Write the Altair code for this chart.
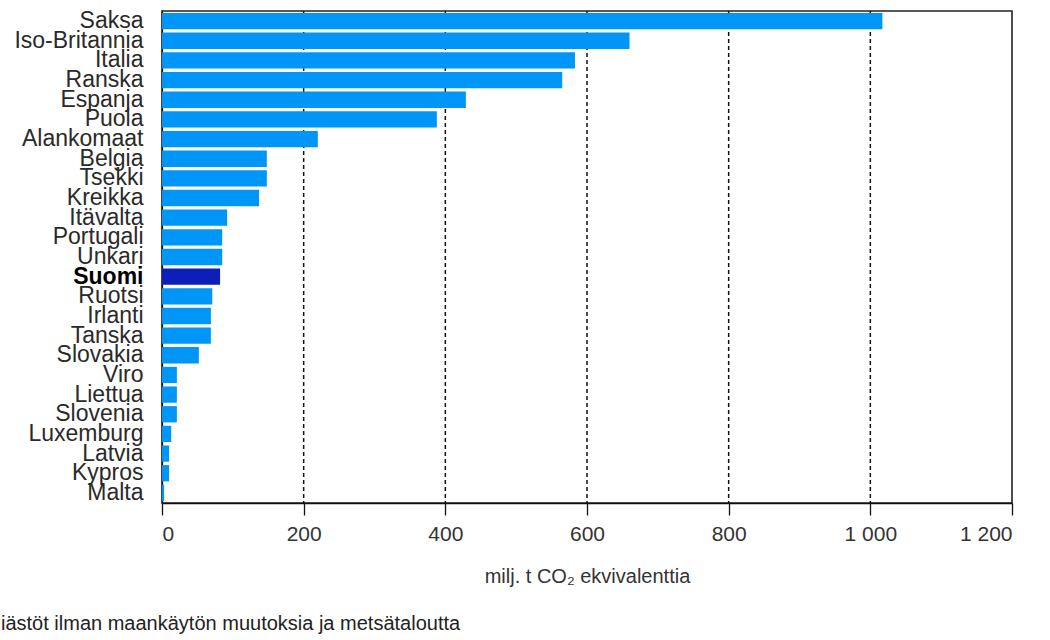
import altair as alt
import pandas as pd

# Greenhouse gas emissions by EU member state, million t CO2 equivalent
countries = [
    "Saksa", "Iso-Britannia", "Italia", "Ranska", "Espanja", "Puola",
    "Alankomaat", "Belgia", "Tsekki", "Kreikka", "Itävalta", "Portugali",
    "Unkari", "Suomi", "Ruotsi", "Irlanti", "Tanska", "Slovakia", "Viro",
    "Liettua", "Slovenia", "Luxemburg", "Latvia", "Kypros", "Malta",
]
emissions = [
    1017, 660, 583, 565, 429, 388,
    220, 148, 148, 137, 92, 85,
    85, 82, 71, 69, 69, 52, 21,
    21, 21, 13, 10, 10, 3,
]
highlight = "Suomi"
x_ticks = [0, 200, 400, 600, 800, 1000, 1200]
grid_values = [200, 400, 600, 800, 1000]
axis_title = "milj. t CO₂  ekvivalenttia"
caption = "iästöt ilman maankäytön muutoksia ja metsätaloutta"

df = pd.DataFrame({"maa": countries, "paastot": emissions})
df["ryhma"] = ["Suomi" if c == highlight else "muut" for c in countries]
grid_df = pd.DataFrame({"arvo": grid_values})

FONT = "Liberation Sans, Arial, sans-serif"
x_scale = alt.Scale(domain=[0, 1200], nice=False)
x_axis = alt.Axis(
    values=x_ticks,
    title=axis_title,
    labelExpr="replace(format(datum.value, ','), ',', ' ')",
    labelFont=FONT,
    labelFontSize=21,
    labelColor="#333333",
    labelPadding=8,
    tickSize=12,
    tickColor="#111111",
    tickWidth=1.3,
    domainColor="#111111",
    domainWidth=1.3,
    grid=False,
    titleFont=FONT,
    titleFontSize=20,
    titleFontWeight="normal",
    titleColor="#333333",
    titlePadding=22,
)

# dashed reference lines, drawn beneath the bars
grid = alt.Chart(grid_df).mark_rule(
    color="#111111", strokeDash=[4, 3], strokeWidth=1.5
).encode(x=alt.X("arvo:Q", scale=x_scale, axis=x_axis))

bars = alt.Chart(df).mark_bar().encode(
    x=alt.X("paastot:Q", scale=x_scale, axis=x_axis),
    y=alt.Y(
        "maa:N",
        sort=countries,
        scale=alt.Scale(paddingInner=0.17, paddingOuter=0.1),
        axis=alt.Axis(
            title=None,
            ticks=False,
            labelFont=FONT,
            labelFontSize=23,
            labelColor={"condition": {"test": "datum.value == 'Suomi'", "value": "#000000"}, "value": "#2a2a2a"},
            labelFontWeight={"condition": {"test": "datum.value == 'Suomi'", "value": "bold"}, "value": "normal"},
            labelPadding=19,
            labelLimit=220,
            domainColor="#111111",
            domainWidth=1.3,
            grid=False,
        ),
    ),
    color=alt.Color(
        "ryhma:N",
        scale=alt.Scale(domain=["muut", "Suomi"], range=["#0096F8", "#0C1FB8"]),
        legend=None,
    ),
)

note = alt.Chart(pd.DataFrame({"t": [caption]})).mark_text(
    align="left", baseline="middle", font=FONT, fontSize=20, color="#222222"
).encode(text="t:N", x=alt.value(-161), y=alt.value(613))

chart = alt.layer(grid, bars, note).properties(
    width=850,
    height=492,
    autosize=alt.AutoSizeParams(type="none"),
    padding={"left": 162, "top": 11, "right": 38, "bottom": 137},
).configure(
    background="white",
    view=alt.ViewConfig(stroke="#222222", strokeWidth=1.6),
)

chart.save("out.html", embed_options={"renderer": "svg", "actions": False})
